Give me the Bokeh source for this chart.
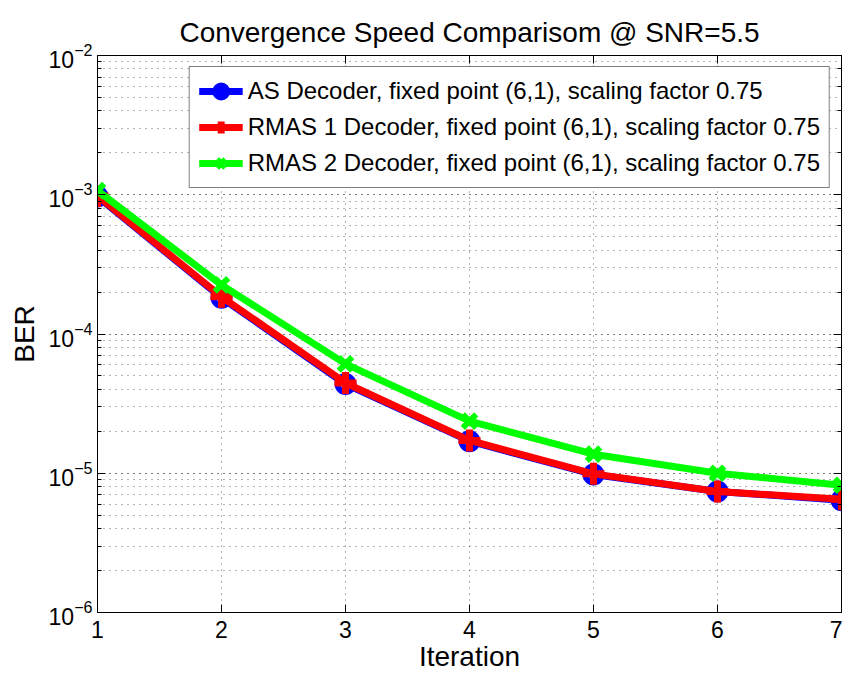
from bokeh.plotting import figure
from bokeh.models import (LogAxis, LinearAxis, Legend, LegendItem, FixedTicker,
                          LogTicker, Range1d)
from bokeh.embed import file_html
from bokeh.resources import INLINE

iterations = [1, 2, 3, 4, 5, 6, 7]
ber_as = [9.7e-4, 1.82e-4, 4.37e-5, 1.70e-5, 9.8e-6, 7.4e-6, 6.4e-6]
ber_rmas1 = [9.8e-4, 1.85e-4, 4.45e-5, 1.72e-5, 9.9e-6, 7.4e-6, 6.5e-6]
ber_rmas2 = [1.07e-3, 2.25e-4, 6.1e-5, 2.37e-5, 1.37e-5, 1.0e-5, 8.2e-6]
series_labels = ["AS Decoder, fixed point (6,1), scaling factor 0.75",
                 "RMAS 1 Decoder, fixed point (6,1), scaling factor 0.75",
                 "RMAS 2 Decoder, fixed point (6,1), scaling factor 0.75"]
title_text = "Convergence Speed Comparisom @ SNR=5.5"
x_label = "Iteration"
y_label = "BER"

FONT = "Liberation Sans"

p = figure(frame_width=744, frame_height=557, y_axis_type="log",
           x_range=Range1d(1, 7), y_range=Range1d(1e-6, 1e-2),
           output_backend="svg", toolbar_location=None,
           min_border_left=97, min_border_right=1, min_border_top=55,
           min_border_bottom=5)

p.title.text = title_text
p.title.align = "center"
p.title.text_font = FONT
p.title.text_font_size = "28px"
p.title.text_font_style = "normal"
p.title.text_color = "black"
p.title.offset = 0
p.title.standoff = 15

p.outline_line_color = "black"
p.outline_line_width = 1
p.outline_line_alpha = 1

xt = FixedTicker(ticks=iterations, minor_ticks=[])
p.xaxis.ticker = xt
for ax in [p.xaxis[0], p.yaxis[0]]:
    ax.major_label_text_font = FONT
    ax.major_label_text_font_size = "23px"
    ax.major_label_text_color = "black"
    ax.axis_label_text_font = FONT
    ax.axis_label_text_font_size = "28px"
    ax.axis_label_text_font_style = "normal"
    ax.axis_label_text_color = "black"
    ax.axis_line_color = "black"
    ax.major_tick_line_color = "black"
    ax.minor_tick_line_color = "black"
    ax.major_tick_in = 8
    ax.major_tick_out = 0
    ax.minor_tick_in = 4
    ax.minor_tick_out = 0

p.xaxis.axis_label = x_label
p.yaxis.axis_label = y_label
p.xaxis.major_label_standoff = 8
p.xaxis.axis_label_standoff = 0
p.yaxis.major_label_standoff = 5
p.yaxis.axis_label_standoff = 6

# box axes (top/right) with inside ticks and no labels
top = LinearAxis(ticker=FixedTicker(ticks=iterations, minor_ticks=[]),
                 major_label_text_font_size="1px", major_label_text_alpha=0,
                 major_tick_in=8, major_tick_out=0,
                 minor_tick_in=0, minor_tick_out=0, major_label_standoff=0,
                 axis_line_color="black")
right = LogAxis(ticker=LogTicker(), major_label_text_font_size="1px",
                major_label_text_alpha=0,
                major_tick_in=8, major_tick_out=0, minor_tick_in=4, minor_tick_out=0,
                major_label_standoff=0, axis_line_color="black")
p.add_layout(top, "above")
p.add_layout(right, "right")

for g in [p.xgrid[0], p.ygrid[0]]:
    g.grid_line_color = "#666666"
    g.grid_line_dash = "1 5"
    g.grid_line_width = 1
p.ygrid.minor_grid_line_color = "#666666"
p.ygrid.minor_grid_line_dash = "1 5"

l1 = p.line(iterations, ber_as, line_color="#0000FF", line_width=7)
m1 = p.scatter(iterations, ber_as, marker="circle", size=16, line_color="#0000FF",
               line_width=6, fill_color=None)
l2 = p.line(iterations, ber_rmas1, line_color="#FF0000", line_width=7)
m2 = p.scatter(iterations, ber_rmas1, marker="cross", size=22, line_color="#FF0000",
               line_width=7)
l3 = p.line(iterations, ber_rmas2, line_color="#00FF00", line_width=7)
m3 = p.scatter(iterations, ber_rmas2, marker="x", size=19, line_color="#00FF00",
               line_width=6)

legend = Legend(items=[LegendItem(label=series_labels[0], renderers=[l1, m1]),
                       LegendItem(label=series_labels[1], renderers=[l2, m2]),
                       LegendItem(label=series_labels[2], renderers=[l3, m3])],
                location="top_right", margin=11, padding=9, spacing=6,
                glyph_width=44, glyph_height=30, label_standoff=5,
                label_text_font=FONT, label_text_font_size="24px",
                label_text_color="black",
                border_line_color="black", border_line_width=1,
                background_fill_color="white", background_fill_alpha=1)
p.add_layout(legend, "center")

open("out.html", "w").write(file_html(p, INLINE))
